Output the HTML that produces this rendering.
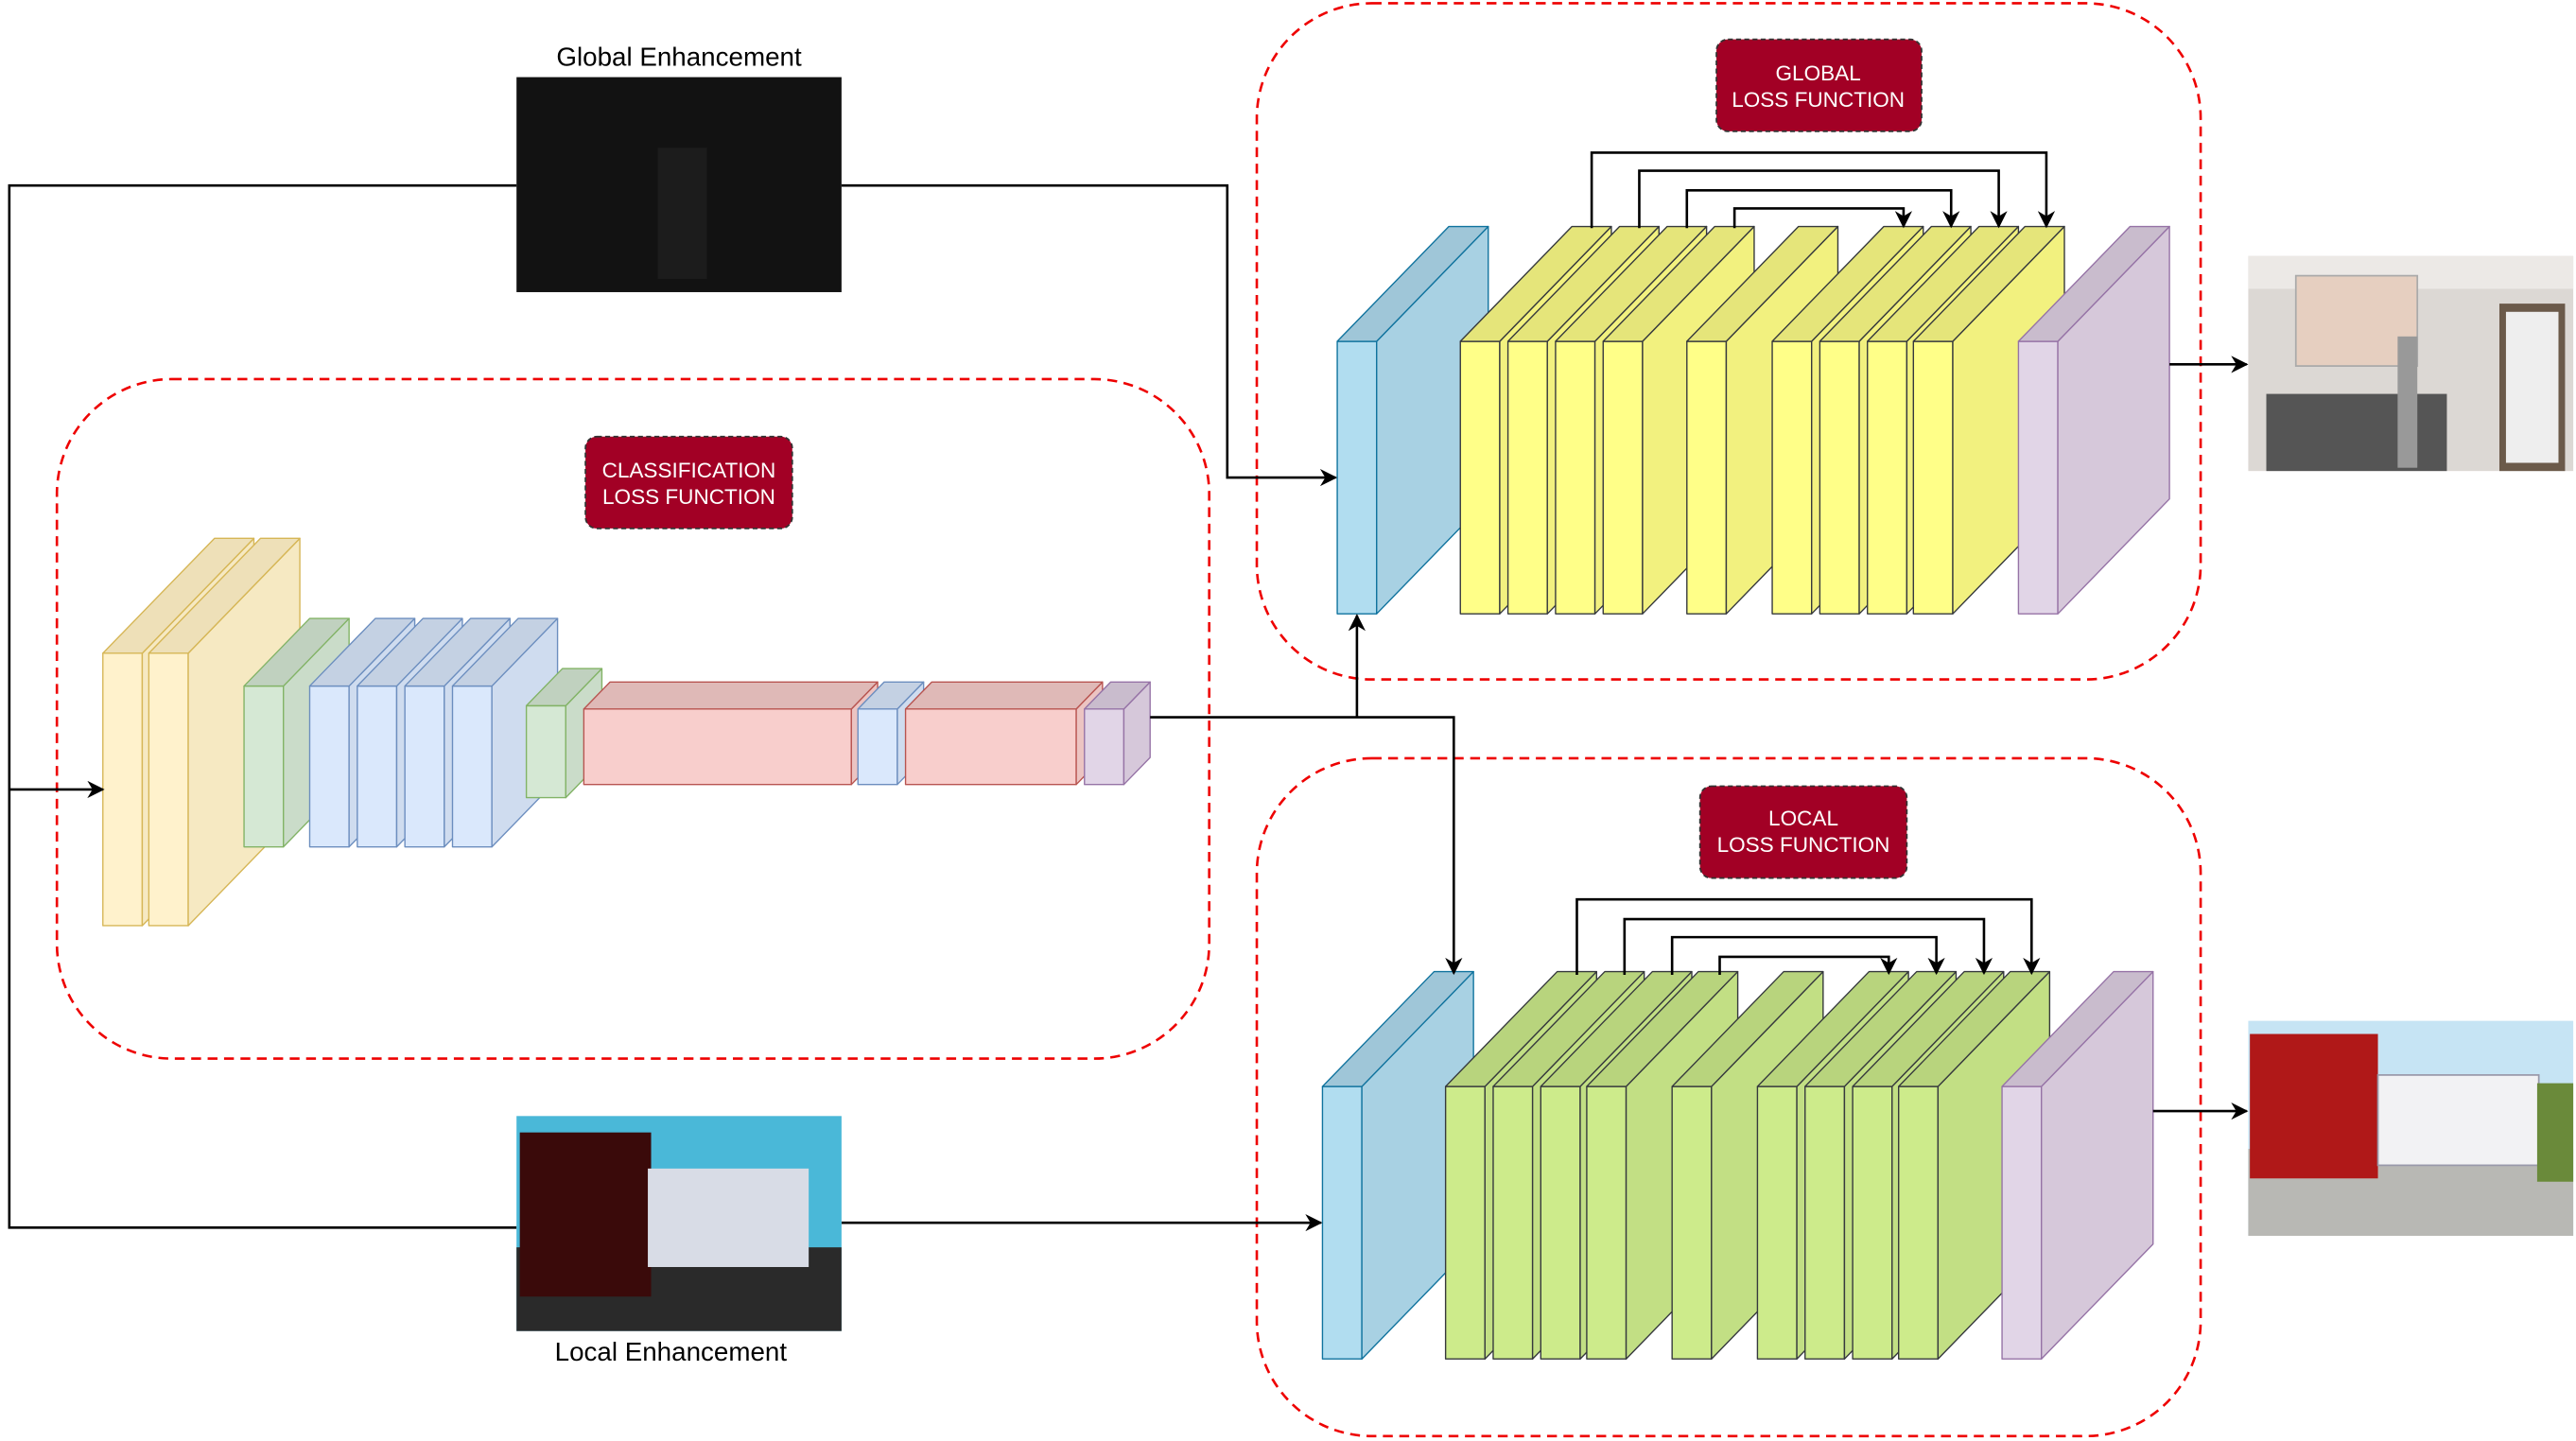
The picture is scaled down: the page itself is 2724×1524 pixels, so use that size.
<!DOCTYPE html>
<html><head><meta charset="utf-8"><style>html,body{margin:0;padding:0;background:#fff}svg{display:block}</style></head>
<body>
<svg id="d" width="2724" height="1524" viewBox="0 0 1568 878" xmlns="http://www.w3.org/2000/svg" font-family="Liberation Sans, sans-serif">
<defs><marker id="ar" viewBox="0 0 10 10" refX="9" refY="5" markerWidth="7" markerHeight="7" orient="auto"><path d="M0,0 L10,5 L0,10 L3,5 z" fill="#000"/></marker></defs>
<g fill="none" stroke="#e00" stroke-width="1.5" stroke-dasharray="6,4">
<rect x="34" y="231" width="702" height="414" rx="70"/>
<rect x="765" y="2" width="575" height="412" rx="70"/>
<rect x="765" y="462" width="575" height="413" rx="70"/>
</g>
<g id="blocks"></g>
<g fill="none" stroke="#000" stroke-width="1.5">
<polyline points="314,113 5,113 5,748 314,748"/>
<line x1="5" y1="481" x2="62" y2="481" marker-end="url(#ar)"/>
<polyline points="512,113 747,113 747,291 813,291" marker-end="url(#ar)"/>
<line x1="512" y1="745" x2="804" y2="745" marker-end="url(#ar)"/>
<polyline points="700,437 885,437 885,593" marker-end="url(#ar)"/>
<line x1="826" y1="437" x2="826" y2="375" marker-end="url(#ar)"/>
<line x1="1321" y1="222" x2="1368" y2="222" marker-end="url(#ar)"/>
<line x1="1311" y1="677" x2="1368" y2="677" marker-end="url(#ar)"/>
<polyline points="969,139 969,93 1246,93 1246,138" marker-end="url(#ar)"/>
<polyline points="998,139 998,104 1217,104 1217,138" marker-end="url(#ar)"/>
<polyline points="1027,139 1027,116 1188,116 1188,138" marker-end="url(#ar)"/>
<polyline points="1056,139 1056,127 1159,127 1159,138" marker-end="url(#ar)"/>
<polyline points="960,594 960,548 1237,548 1237,593" marker-end="url(#ar)"/>
<polyline points="989,594 989,560 1208,560 1208,593" marker-end="url(#ar)"/>
<polyline points="1018,594 1018,571 1179,571 1179,593" marker-end="url(#ar)"/>
<polyline points="1047,594 1047,583 1150,583 1150,593" marker-end="url(#ar)"/>
</g>
<g font-size="13" fill="#fff" text-anchor="middle">
<rect x="1045" y="24" width="125" height="56" rx="7" fill="#a20025" stroke="#333" stroke-dasharray="3,2"/>
<text x="1107" y="49">GLOBAL</text><text x="1107" y="65">LOSS FUNCTION</text>
<rect x="356" y="266" width="126" height="56" rx="7" fill="#a20025" stroke="#333" stroke-dasharray="3,2"/>
<text x="419" y="291">CLASSIFICATION</text><text x="419" y="307">LOSS FUNCTION</text>
<rect x="1035" y="479" width="126" height="56" rx="7" fill="#a20025" stroke="#333" stroke-dasharray="3,2"/>
<text x="1098" y="503">LOCAL</text><text x="1098" y="519">LOSS FUNCTION</text>
</g>
<g>
<rect x="314" y="47" width="198" height="131" fill="#121212"/>
<rect x="400" y="90" width="30" height="80" fill="#1c1c1c"/>
<g>
<rect x="1369" y="156" width="198" height="131" fill="#dcd8d4"/>
<rect x="1369" y="156" width="198" height="20" fill="#ece9e6"/>
<rect x="1398" y="168" width="74" height="55" fill="#e6cfc0" stroke="#aaa"/>
<rect x="1522" y="185" width="40" height="102" fill="#6b5a4a"/><rect x="1526" y="190" width="32" height="92" fill="#eee"/>
<rect x="1380" y="240" width="110" height="47" fill="#555"/><rect x="1460" y="205" width="12" height="80" fill="#999"/>
</g>
<g>
<rect x="314" y="680" width="198" height="131" fill="#4ab8d8"/>
<rect x="314" y="760" width="198" height="51" fill="#2a2a2a"/>
<rect x="316" y="690" width="80" height="100" fill="#3a0a0a"/>
<rect x="394" y="712" width="98" height="60" fill="#d8dce6"/>
</g>
<g>
<rect x="1369" y="622" width="198" height="131" fill="#c6e4f4"/>
<rect x="1369" y="700" width="198" height="53" fill="#b8b8b4"/>
<rect x="1370" y="630" width="78" height="88" fill="#b01818"/>
<rect x="1448" y="655" width="98" height="55" fill="#f2f2f4" stroke="#99a"/>
<rect x="1545" y="660" width="22" height="60" fill="#6a8a3a"/>
</g>
<text font-size="16" x="413" y="40" text-anchor="middle" fill="#000">Global Enhancement</text>
<text font-size="16" x="408" y="829" text-anchor="middle" fill="#000">Local Enhancement</text>
</g>
</svg>
<script>
const clsX=[62,90,148,188,217,246,275,320,355,522,551,660];
const clsY=[398,398,418,418,418,418,418,430,432,432,432,432];
const clsW=[24,24,24,24,24,24,24,24,163,24,104,24];
const clsH=[166,166,98,98,98,98,98,56,46,46,46,46];
const clsD=[68,68,40,40,40,40,40,22,16,16,16,16];
const clsC=['y','y','g','b','b','b','b','g','r','b','r','p'];
const gX=[814,889,918,947,976,1027,1079,1108,1137,1165,1229];
const lX=[805,880,909,938,966,1018,1070,1099,1128,1156,1219];
const pal={y:['#fff2cc','#f6e9c2','#eee0b8','#d6b656'],g:['#d5e8d4','#cadcc9','#c0d1bf','#82b366'],b:['#dae8fc','#cfdcef','#c4d1e3','#6c8ebf'],r:['#f8cecc','#ecc4c2','#dfb9b7','#b85450'],p:['#e1d5e7','#d6c8da','#c9bccd','#9673a6'],c:['#b1ddf0','#a8d1e3','#9fc6d8','#10739e'],Y:['#ffff88','#f2f17f','#e5e57a','#36393d'],G:['#cdeb8b','#c2df84','#b8d47d','#36393d']};
const g=document.getElementById('blocks');const NS='http://www.w3.org/2000/svg';
function box(x,y,w,h,d,k){const c=pal[k];
 const grp=document.createElementNS(NS,'g');
 
 
 grp.setAttribute('stroke',c[3]);grp.setAttribute('stroke-width','0.8');grp.setAttribute('stroke-linejoin','round');
 const dy=d*70/68;
 const s=[[`${x+w},${y} ${x+w+d},${y-dy} ${x+w+d},${y+h-dy} ${x+w},${y+h}`,c[1]],[`${x},${y} ${x+d},${y-dy} ${x+w+d},${y-dy} ${x+w},${y}`,c[2]]];
 const f=document.createElementNS(NS,'rect');f.setAttribute('x',x);f.setAttribute('y',y);f.setAttribute('width',w);f.setAttribute('height',h);f.setAttribute('fill',c[0]);grp.appendChild(f);
 s.forEach(p=>{const e=document.createElementNS(NS,'polygon');e.setAttribute('points',p[0]);e.setAttribute('fill',p[1]);grp.appendChild(e);});
 g.appendChild(grp);}
clsX.forEach((x,i)=>box(x,clsY[i],clsW[i],clsH[i],clsD[i],clsC[i]));
gX.forEach((x,i)=>box(x,208,24,166,68,i==0?'c':i==gX.length-1?'p':'Y'));
lX.forEach((x,i)=>box(x,662,24,166,68,i==0?'c':i==lX.length-1?'p':'G'));
</script>
</body></html>
